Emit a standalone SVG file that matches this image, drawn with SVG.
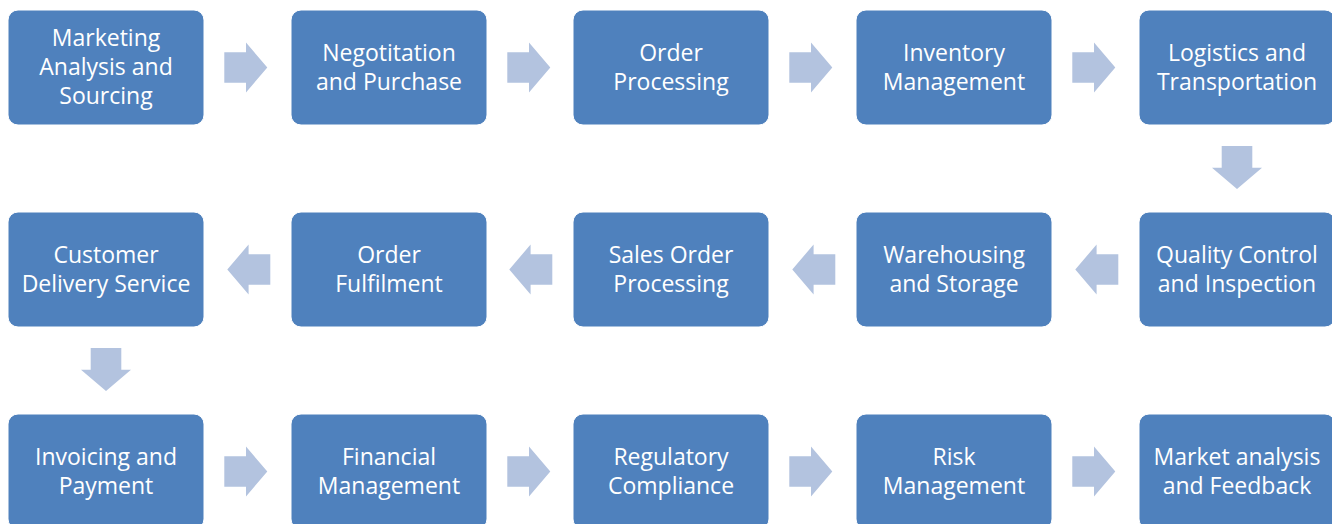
<svg xmlns="http://www.w3.org/2000/svg" width="1332" height="524" viewBox="0 0 1332 524">
<style>
.box{fill:#4F81BD;stroke:#FFFFFF;stroke-width:1}
.lbl{font-family:"Open Sans",Lato,sans-serif;font-size:23px;fill:#FFFFFF;text-anchor:middle}
.arr{fill:#B3C3DF}
</style>
<defs>
<path id="ar" d="M0,-15.3 H21.7 V-25 L43,0 L21.7,25 V15.3 H0 Z"/>
</defs>
<rect width="1332" height="524" fill="#FFFFFF"/>
<g id="n1"><rect class="box" x="8" y="10" width="196" height="115" rx="10"/><text class="lbl" x="106" y="46">Marketing</text><text class="lbl" x="106" y="75">Analysis and</text><text class="lbl" x="106" y="104">Sourcing</text></g>
<g id="n2"><rect class="box" x="291" y="10" width="196" height="115" rx="10"/><text class="lbl" x="389" y="61">Negotitation</text><text class="lbl" x="389" y="90">and Purchase</text></g>
<g id="n3"><rect class="box" x="573" y="10" width="196" height="115" rx="10"/><text class="lbl" x="671" y="61">Order</text><text class="lbl" x="671" y="90">Processing</text></g>
<g id="n4"><rect class="box" x="856" y="10" width="196" height="115" rx="10"/><text class="lbl" x="954" y="61">Inventory</text><text class="lbl" x="954" y="90">Management</text></g>
<g id="n5"><rect class="box" x="1139" y="10" width="196" height="115" rx="10"/><text class="lbl" x="1237" y="61">Logistics and</text><text class="lbl" x="1237" y="90">Transportation</text></g>
<g id="n6"><rect class="box" x="1139" y="212" width="196" height="115" rx="10"/><text class="lbl" x="1237" y="263">Quality Control</text><text class="lbl" x="1237" y="292">and Inspection</text></g>
<g id="n7"><rect class="box" x="856" y="212" width="196" height="115" rx="10"/><text class="lbl" x="954" y="263">Warehousing</text><text class="lbl" x="954" y="292">and Storage</text></g>
<g id="n8"><rect class="box" x="573" y="212" width="196" height="115" rx="10"/><text class="lbl" x="671" y="263">Sales Order</text><text class="lbl" x="671" y="292">Processing</text></g>
<g id="n9"><rect class="box" x="291" y="212" width="196" height="115" rx="10"/><text class="lbl" x="389" y="263">Order</text><text class="lbl" x="389" y="292">Fulfilment</text></g>
<g id="n10"><rect class="box" x="8" y="212" width="196" height="115" rx="10"/><text class="lbl" x="106" y="263">Customer</text><text class="lbl" x="106" y="292">Delivery Service</text></g>
<g id="n11"><rect class="box" x="8" y="414" width="196" height="115" rx="10"/><text class="lbl" x="106" y="465">Invoicing and</text><text class="lbl" x="106" y="494">Payment</text></g>
<g id="n12"><rect class="box" x="291" y="414" width="196" height="115" rx="10"/><text class="lbl" x="389" y="465">Financial</text><text class="lbl" x="389" y="494">Management</text></g>
<g id="n13"><rect class="box" x="573" y="414" width="196" height="115" rx="10"/><text class="lbl" x="671" y="465">Regulatory</text><text class="lbl" x="671" y="494">Compliance</text></g>
<g id="n14"><rect class="box" x="856" y="414" width="196" height="115" rx="10"/><text class="lbl" x="954" y="465">Risk</text><text class="lbl" x="954" y="494">Management</text></g>
<g id="n15"><rect class="box" x="1139" y="414" width="196" height="115" rx="10"/><text class="lbl" x="1237" y="465">Market analysis</text><text class="lbl" x="1237" y="494">and Feedback</text></g>
<g id="connectors" class="arr">
<use href="#ar" transform="translate(224.3,67.5)"/>
<use href="#ar" transform="translate(507.3,67.5)"/>
<use href="#ar" transform="translate(789.3,67.5)"/>
<use href="#ar" transform="translate(1072.3,67.5)"/>
<use href="#ar" transform="translate(1237,146) rotate(90)"/>
<use href="#ar" transform="translate(1118.3,269.5) rotate(180)"/>
<use href="#ar" transform="translate(835.3,269.5) rotate(180)"/>
<use href="#ar" transform="translate(552.3,269.5) rotate(180)"/>
<use href="#ar" transform="translate(270.3,269.5) rotate(180)"/>
<use href="#ar" transform="translate(106,348) rotate(90)"/>
<use href="#ar" transform="translate(224.3,471.5)"/>
<use href="#ar" transform="translate(507.3,471.5)"/>
<use href="#ar" transform="translate(789.3,471.5)"/>
<use href="#ar" transform="translate(1072.3,471.5)"/>
</g>
</svg>
